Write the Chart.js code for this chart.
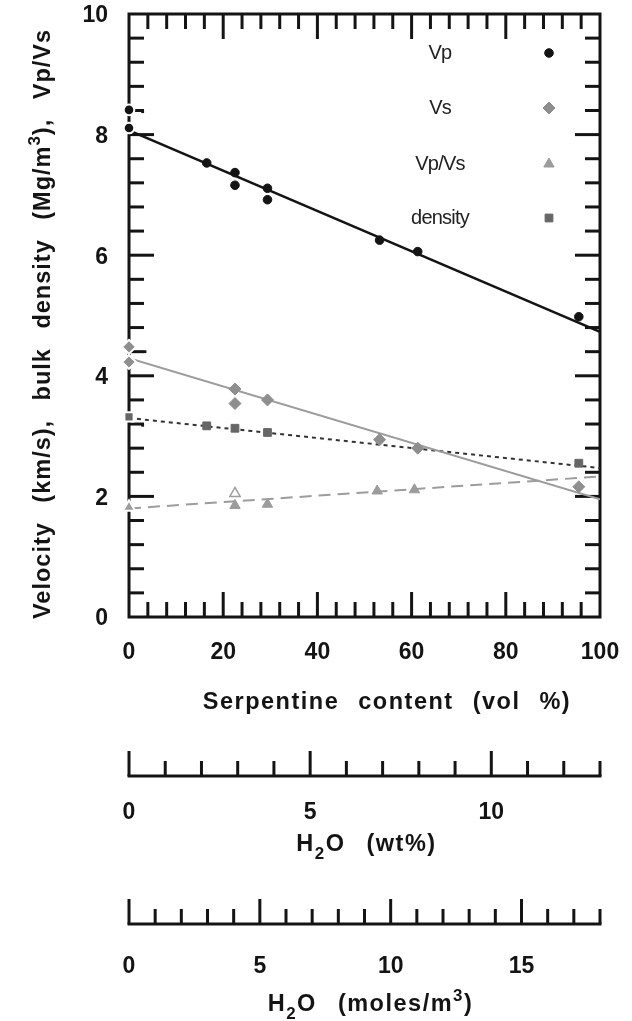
<!DOCTYPE html>
<html>
<head>
<meta charset="utf-8">
<script src="https://cdn.jsdelivr.net/npm/chart.js@4/dist/chart.umd.min.js"></script>
<style>
html,body{margin:0;padding:0;background:#fff;}
canvas{display:block;}
</style>
</head>
<body>
<canvas id="c" width="632" height="1021"></canvas>
<script>
// ---------------- data ----------------
const serpVp   = [0, 0, 16.5, 22.5, 22.5, 29.4, 29.4, 53.2, 61.3, 95.5];
const vp       = [8.41, 8.11, 7.53, 7.37, 7.16, 7.11, 6.92, 6.25, 6.06, 4.98];

const serpVs   = [0, 0, 22.5, 22.5, 29.4, 53.2, 61.3, 95.5];
const vs       = [4.23, 4.48, 3.54, 3.78, 3.60, 2.94, 2.80, 2.16];

const serpRho  = [0, 16.5, 22.5, 29.4, 95.5];
const density  = [3.32, 3.17, 3.13, 3.06, 2.55];

const serpRatio = [0, 22.5, 29.4, 52.7, 60.6];
const vpvs      = [1.82, 1.85, 1.87, 2.09, 2.11];
const serpRatioOpen = [22.5];
const vpvsOpen      = [2.05];

const serpMarks = [2.9, 3.4, 2.9];
const marks     = [8.38, 4.40, 3.18];

// least-squares fit lines (end points at 0 and 100 vol %)
const fitX     = [0, 100];
const vpFit    = [8.07, 4.73];
const vsFit    = [4.29, 1.95];
const rhoFit   = [3.30, 2.47];
const ratioFit = [1.80, 2.33];

// axes
const xTickValues   = [0, 20, 40, 60, 80, 100];
const xTickLabels   = ['0', '20', '40', '60', '80', '100'];
const yTickValues   = [0, 2, 4, 6, 8, 10];
const yTickLabels   = ['0', '2', '4', '6', '8', '10'];
const wtTickValues  = [0, 5, 10];
const wtTickLabels  = ['0', '5', '10'];
const molTickValues = [0, 5, 10, 15];
const molTickLabels = ['0', '5', '10', '15'];

const legendLabels = ['Vp', 'Vs', 'Vp/Vs', 'density'];

// ---------------- styling ----------------
const FONT = '"Liberation Sans", Arial, Helvetica, sans-serif';
const BLACK = '#141414';
const GREY = '#9c9c9c';
const DIAMOND = '#8e8e8e';
const SQUARE = '#666666';

function pts(xs, ys) { return xs.map((x, i) => ({ x: x, y: ys[i] })); }

function onAxis(ctx) { return ctx.raw && ctx.raw.x === 0; }
function haloColor(fill) {
  return ctx => onAxis(ctx) ? '#ffffff' : fill;
}
function haloWidth(ctx) { return onAxis(ctx) ? 2 : 1; }
function haloRadius(r) { return ctx => onAxis(ctx) ? r + 1 : r; }

function pointSet(label, xs, ys, style, radius, fill) {
  return {
    type: 'scatter', label: label, data: pts(xs, ys), showLine: false,
    pointStyle: style, pointRadius: haloRadius(radius), pointHoverRadius: radius,
    legendRadius: radius,
    pointBackgroundColor: fill, pointBorderColor: haloColor(fill),
    pointBorderWidth: haloWidth, clip: false
  };
}
function lineSet(label, ys, color, width, dash) {
  return {
    type: 'line', label: label, data: pts(fitX, ys), borderColor: color,
    borderWidth: width, borderDash: dash || [], pointRadius: 0,
    fill: false, tension: 0, borderCapStyle: 'butt'
  };
}

const datasets = [
  pointSet('Vp', serpVp, vp, 'circle', 4.3, BLACK),
  pointSet('Vs', serpVs, vs, 'rectRot', 6, DIAMOND),
  pointSet('Vp/Vs', serpRatio, vpvs, 'triangle', 6, GREY),
  pointSet('density', serpRho, density, 'rect', 5.5, SQUARE),
  {
    type: 'scatter', label: 'Vp/Vs (open)', data: pts(serpRatioOpen, vpvsOpen), showLine: false,
    pointStyle: 'triangle', pointRadius: 6, pointBackgroundColor: '#ffffff',
    pointBorderColor: GREY, pointBorderWidth: 1.5, clip: false
  },
  {
    type: 'scatter', label: 'marks', data: pts(serpMarks, marks), showLine: false,
    pointStyle: 'rect', pointRadius: 2, pointBackgroundColor: BLACK,
    pointBorderColor: BLACK, pointBorderWidth: 0, clip: false
  },
  lineSet('Vp fit', vpFit, BLACK, 2.5),
  lineSet('Vs fit', vsFit, GREY, 2),
  lineSet('density fit', rhoFit, '#333333', 2, [4, 4]),
  lineSet('Vp/Vs fit', ratioFit, GREY, 2, [12, 7])
];

// ---------------- text helpers ----------------
function setSpacing(ctx, ls, ws) {
  if ('letterSpacing' in ctx) ctx.letterSpacing = ls + 'px';
  if ('wordSpacing' in ctx) ctx.wordSpacing = ws + 'px';
}
function drawRich(ctx, parts, cx, cy, size, ls, ws) {
  ctx.textAlign = 'left';
  ctx.textBaseline = 'middle';
  let total = 0;
  const widths = parts.map(p => {
    const s = (p.sub || p.sup) ? size * 0.72 : size;
    ctx.font = 'bold ' + s + 'px ' + FONT;
    setSpacing(ctx, ls, ws);
    const w = ctx.measureText(p.t).width;
    total += w;
    return w;
  });
  let x = cx - total / 2;
  parts.forEach((p, i) => {
    const s = (p.sub || p.sup) ? size * 0.72 : size;
    ctx.font = 'bold ' + s + 'px ' + FONT;
    setSpacing(ctx, ls, ws);
    const dy = p.sub ? size * 0.38 : (p.sup ? -size * 0.36 : 0);
    ctx.fillText(p.t, x, cy + dy);
    x += widths[i];
  });
  setSpacing(ctx, 0, 0);
}

function drawTicks(ctx, scale, horiz, min, max, step, majors, pos, dir, majLen, minLen, skipEnds) {
  const n = Math.round((max - min) / step);
  for (let i = 0; i <= n; i++) {
    const v = min + i * step;
    if (skipEnds && (i === 0 || i === n)) continue;
    const isMajor = majors.some(m => Math.abs(m - v) < 1e-6);
    const len = isMajor ? majLen : minLen;
    const p = scale.getPixelForValue(v);
    ctx.beginPath();
    if (horiz) { ctx.moveTo(p, pos); ctx.lineTo(p, pos + dir * len); }
    else { ctx.moveTo(pos, p); ctx.lineTo(pos + dir * len, p); }
    ctx.stroke();
  }
}

const MAJ = 25, MIN = 15;

const framePlugin = {
  id: 'frame',
  beforeDatasetsDraw(chart) {
    const ctx = chart.ctx, a = chart.chartArea, sx = chart.scales.x, sy = chart.scales.y;
    const sw = chart.scales.wt, sm = chart.scales.mol;
    ctx.save();
    ctx.strokeStyle = BLACK;
    ctx.fillStyle = BLACK;
    ctx.lineWidth = 3;
    ctx.lineCap = 'butt';
    // inward ticks on all four sides
    drawTicks(ctx, sx, true, 0, 100, 4, xTickValues, a.bottom, -1, MAJ, MIN, true);
    drawTicks(ctx, sx, true, 0, 100, 4, xTickValues, a.top, 1, MAJ, MIN, true);
    drawTicks(ctx, sy, false, 0, 10, 0.4, yTickValues, a.left, 1, MAJ, MIN, true);
    drawTicks(ctx, sy, false, 0, 10, 0.4, yTickValues, a.right, -1, MAJ, MIN, true);
    ctx.lineJoin = 'miter';
    ctx.strokeRect(a.left, a.top, a.right - a.left, a.bottom - a.top);

    // tick labels
    ctx.font = 'bold 23px ' + FONT;
    ctx.textAlign = 'center';
    ctx.textBaseline = 'middle';
    xTickValues.forEach((v, i) => ctx.fillText(xTickLabels[i], sx.getPixelForValue(v), 653));
    ctx.textAlign = 'right';
    yTickValues.forEach((v, i) => ctx.fillText(yTickLabels[i], 108, sy.getPixelForValue(v) + 2));

    // axis titles
    const cx = (a.left + a.right) / 2;
    drawRich(ctx, [{ t: 'Serpentine content (vol %)' }], 387, 703, 23.5, 1.5, 11);
    ctx.save();
    ctx.translate(44, 324);
    ctx.rotate(-Math.PI / 2);
    drawRich(ctx, [{ t: 'Velocity (km/s), bulk density (Mg/m' }, { t: '3', sup: true }, { t: '), Vp/Vs' }], 0, 0, 23.5, 1.0, 12);
    ctx.restore();

    // secondary axes: H2O wt% and H2O moles/m3
    const secondary = [
      { s: sw, max: 13, majors: wtTickValues, labels: wtTickLabels, base: 776, ly: 813, ty: 845, tx: cx + 2,
        title: [{ t: 'H' }, { t: '2', sub: true }, { t: 'O (wt%)' }] },
      { s: sm, max: 18, majors: molTickValues, labels: molTickLabels, base: 924, ly: 967, ty: 1005, tx: cx + 6,
        title: [{ t: 'H' }, { t: '2', sub: true }, { t: 'O (moles/m' }, { t: '3', sup: true }, { t: ')' }] }
    ];
    secondary.forEach(ax => {
      ctx.lineWidth = 3;
      drawTicks(ctx, ax.s, true, 0, ax.max, 1, ax.majors, ax.base, -1, MAJ, MIN, false);
      ctx.beginPath();
      ctx.moveTo(ax.s.getPixelForValue(0) - 1.5, ax.base);
      ctx.lineTo(ax.s.getPixelForValue(ax.max) + 1.5, ax.base);
      ctx.stroke();
      ctx.font = 'bold 23px ' + FONT;
      ctx.textAlign = 'center';
      ctx.textBaseline = 'middle';
      ax.majors.forEach((v, i) => ctx.fillText(ax.labels[i], ax.s.getPixelForValue(v), ax.ly));
      drawRich(ctx, ax.title, ax.tx, ax.ty, 23.5, 1.5, 13);
    });
    ctx.restore();
  },
  afterDatasetsDraw(chart) {
    // legend inside the plot
    const ctx = chart.ctx;
    const rows = [53, 108, 164, 218];
    ctx.save();
    legendLabels.forEach((lab, i) => {
      const ds = chart.data.datasets.find(d => d.label === lab);
      ctx.font = '20px ' + FONT;
      setSpacing(ctx, -0.8, 0);
      ctx.fillStyle = '#222';
      ctx.textAlign = 'center';
      ctx.textBaseline = 'middle';
      ctx.fillText(lab, 440, rows[i]);
      setSpacing(ctx, 0, 0);
      ctx.fillStyle = ds.pointBackgroundColor;
      ctx.strokeStyle = ds.pointBackgroundColor;
      const opts = { pointStyle: ds.pointStyle, radius: ds.legendRadius, rotation: 0, borderWidth: 1 };
      if (Chart.helpers && Chart.helpers.drawPoint) {
        Chart.helpers.drawPoint(ctx, opts, 549, rows[i]);
      } else {
        ctx.beginPath(); ctx.arc(549, rows[i], ds.legendRadius, 0, Math.PI * 2); ctx.fill();
      }
    });
    ctx.restore();
  }
};

new Chart(document.getElementById('c'), {
  type: 'scatter',
  data: { datasets: datasets },
  options: {
    responsive: false,
    animation: false,
    events: [],
    devicePixelRatio: 1,
    layout: { padding: { left: 129, top: 14, right: 32, bottom: 404 } },
    plugins: { legend: { display: false }, tooltip: { enabled: false } },
    scales: {
      x: { type: 'linear', min: 0, max: 100, display: false },
      y: { type: 'linear', min: 0, max: 10, display: false },
      wt: { type: 'linear', axis: 'x', position: 'bottom', min: 0, max: 13, display: false },
      mol: { type: 'linear', axis: 'x', position: 'bottom', min: 0, max: 18, display: false }
    }
  },
  plugins: [framePlugin]
});
</script>
</body>
</html>
